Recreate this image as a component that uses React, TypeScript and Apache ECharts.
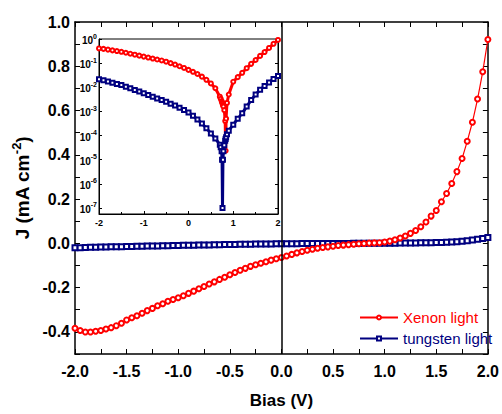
import React, { useEffect, useRef } from "react";
import * as echarts from "echarts";

// ---------- main panel data ----------
const bias = [
  -2.0, -1.95, -1.9, -1.85, -1.8, -1.75, -1.7, -1.65, -1.6, -1.55,
  -1.5, -1.45, -1.4, -1.35, -1.3, -1.25, -1.2, -1.15, -1.1, -1.05,
  -1.0, -0.95, -0.9, -0.85, -0.8, -0.75, -0.7, -0.65, -0.6, -0.55,
  -0.5, -0.45, -0.4, -0.35, -0.3, -0.25, -0.2, -0.15, -0.1, -0.05,
  0.0, 0.05, 0.1, 0.15, 0.2, 0.25, 0.3, 0.35, 0.4, 0.45,
  0.5, 0.55, 0.6, 0.65, 0.7, 0.75, 0.8, 0.85, 0.9, 0.95,
  1.0, 1.05, 1.1, 1.15, 1.2, 1.25, 1.3, 1.35, 1.4, 1.45,
  1.5, 1.55, 1.6, 1.65, 1.7, 1.75, 1.8, 1.85, 1.9, 1.95, 2.0,
];
const xenonJ = [
  -0.384, -0.394, -0.401, -0.401, -0.397, -0.394, -0.387, -0.381, -0.372, -0.361,
  -0.346, -0.336, -0.327, -0.316, -0.304, -0.294, -0.282, -0.273, -0.262, -0.254,
  -0.246, -0.237, -0.226, -0.216, -0.205, -0.195, -0.184, -0.174, -0.163, -0.153,
  -0.142, -0.132, -0.122, -0.113, -0.104, -0.097, -0.09, -0.083, -0.076, -0.07,
  -0.064, -0.057, -0.05, -0.043, -0.037, -0.031, -0.027, -0.022, -0.019, -0.016,
  -0.013, -0.01, -0.008, -0.006, -0.004, -0.002, -0.001, 0.001, 0.002, 0.003,
  0.006, 0.01, 0.016, 0.024, 0.033, 0.045, 0.058, 0.075, 0.096, 0.123,
  0.148, 0.188, 0.225, 0.27, 0.324, 0.383, 0.461, 0.547, 0.652, 0.775, 0.921,
];
const tungstenJ = [
  -0.02, -0.0195, -0.019, -0.018, -0.0175, -0.017, -0.0165, -0.016, -0.0155, -0.015,
  -0.0145, -0.014, -0.0135, -0.013, -0.0125, -0.012, -0.0115, -0.011, -0.0105, -0.01,
  -0.0095, -0.009, -0.0086, -0.0082, -0.0078, -0.0074, -0.007, -0.0066, -0.0062, -0.0058,
  -0.0054, -0.005, -0.0046, -0.0042, -0.0038, -0.0035, -0.0032, -0.0029, -0.0026, -0.0023,
  -0.002, -0.0018, -0.0016, -0.0014, -0.0012, -0.001, -0.0009, -0.0008, -0.0007, -0.0006,
  -0.0005, -0.0004, -0.0003, -0.0002, -0.0001, 0.0, 0.0001, 0.0002, 0.0003, 0.0004,
  0.0005, 0.0006, 0.0008, 0.001, 0.0012, 0.0015, 0.0018, 0.0022, 0.0026, 0.003,
  0.0035, 0.0042, 0.005, 0.006, 0.0075, 0.0095, 0.012, 0.015, 0.0185, 0.022, 0.026,
];

// ---------- inset (log |J|) data: log10 of |J| ----------
const insetBias = [
  -2.0, -1.9, -1.8, -1.7, -1.6, -1.5, -1.4, -1.3, -1.2, -1.1,
  -1.0, -0.9, -0.8, -0.7, -0.6, -0.5, -0.4, -0.3, -0.2, -0.1,
  0.0, 0.1, 0.2, 0.3, 0.4, 0.5, 0.6, 0.7, 0.72, 0.74,
  0.75, 0.76, 0.77, 0.78, 0.8, 0.82, 0.83, 0.84, 0.86, 0.9,
  1.0, 1.1, 1.2, 1.3, 1.4, 1.5, 1.6, 1.7, 1.8, 1.9, 2.0,
];
const insetXenonLog = [
  -0.39, -0.41, -0.44, -0.47, -0.5, -0.53, -0.57, -0.61, -0.65, -0.69,
  -0.73, -0.77, -0.81, -0.85, -0.89, -0.94, -1.0, -1.06, -1.13, -1.2,
  -1.28, -1.36, -1.45, -1.56, -1.69, -1.84, -2.04, -2.39, -2.48, -2.57,
  -2.62, -2.68, -2.74, -2.8, -2.95, -3.4, -4.63, -3.3, -2.65, -2.3,
  -1.77, -1.58, -1.4, -1.21, -1.03, -0.87, -0.7, -0.54, -0.37, -0.2, -0.04,
];
const insetTungstenLog = [
  -1.67, -1.71, -1.76, -1.81, -1.86, -1.91, -1.98, -2.04, -2.11, -2.18,
  -2.25, -2.32, -2.39, -2.46, -2.53, -2.6, -2.68, -2.76, -2.85, -2.94,
  -3.04, -3.18, -3.33, -3.5, -3.7, -3.91, -4.12, -4.38, -4.48, -4.65,
  -5.0, -7.0, -5.0, -4.65, -4.4, -4.22, -4.14, -4.07, -3.95, -3.8,
  -3.55, -3.3, -3.08, -2.8, -2.53, -2.3, -2.1, -1.95, -1.8, -1.66, -1.53,
];
const insetDecades = [-7, -6, -5, -4, -3, -2, -1, 0];

const RED = "#ff0000";
const NAVY = "#000080";
const FONT = "'Liberation Sans', Arial, sans-serif";

export default function App() {
  const ref = useRef<HTMLDivElement>(null);
  useEffect(() => {
    if (!ref.current) return;
    const chart = echarts.init(ref.current, null, { renderer: "svg" });
    const axisLine = { show: true, onZero: false, lineStyle: { color: "#000", width: 1.5 } };
    const tickMain = { show: true, inside: true, length: 5, lineStyle: { color: "#000", width: 1 } };
    const insetTickVals = insetDecades.map((e) => Math.pow(10, e));
    const option: any = {
      animation: false,
      textStyle: { fontFamily: FONT },
      grid: [
        { left: 75, right: 12, top: 22, bottom: 59, show: false },
        {
          left: 99, top: 39, width: 179, height: 175, show: true,
          borderColor: "#000", borderWidth: 1, backgroundColor: "#fff", z: 5,
        },
      ],
      xAxis: [
        {
          type: "value", gridIndex: 0, min: -2, max: 2, interval: 0.25,
          axisLine, axisTick: tickMain, splitLine: { show: false },
          axisLabel: {
            color: "#000", fontSize: 16, fontWeight: "bold", fontFamily: FONT, margin: 9,
            formatter: (v: number) => (Math.round(v * 4) % 2 === 0 ? v.toFixed(1) : ""),
          },
          name: "Bias (V)", nameLocation: "middle", nameGap: 38,
          nameTextStyle: { color: "#000", fontSize: 17, fontWeight: "bold", fontFamily: FONT },
        },
        {
          type: "value", gridIndex: 0, position: "top", min: -2, max: 2, interval: 0.25,
          axisLine, axisTick: tickMain, axisLabel: { show: false }, splitLine: { show: false },
        },
        {
          type: "value", gridIndex: 1, min: -2, max: 2, interval: 1,
          axisLine: { show: true, onZero: false, lineStyle: { color: "#000", width: 1 } },
          axisTick: { show: true, inside: true, length: 3, lineStyle: { color: "#000" } },
          minorTick: { show: true, splitNumber: 2, length: 2, lineStyle: { color: "#000" } },
          splitLine: { show: false },
          axisLabel: { color: "#000", fontSize: 9, fontWeight: "bold", fontFamily: FONT, margin: 4 },
          z: 6,
        },
      ],
      yAxis: [
        {
          type: "value", gridIndex: 0, min: -0.5, max: 1.0, interval: 0.1,
          axisLine, axisTick: tickMain, splitLine: { show: false },
          axisLabel: {
            color: "#000", fontSize: 16, fontWeight: "bold", fontFamily: FONT, margin: 5,
            formatter: (v: number) => (Math.abs(Math.round(v * 10)) % 2 === 0 ? v.toFixed(1) : ""),
          },
          name: "{a|J (mA cm}{s|-2}{a|)}", nameLocation: "middle", nameGap: 36, nameRotate: 90,
          nameTextStyle: {
            rich: {
              a: { fontSize: 19, fontWeight: "bold", color: "#000", fontFamily: FONT, lineHeight: 22, verticalAlign: "bottom" },
              s: { fontSize: 13, fontWeight: "bold", color: "#000", fontFamily: FONT, lineHeight: 14, verticalAlign: "top" },
            },
          },
        },
        {
          type: "value", gridIndex: 0, position: "right", min: -0.5, max: 1.0, interval: 0.1,
          axisLine, axisTick: tickMain, axisLabel: { show: false }, splitLine: { show: false },
        },
        {
          type: "log", logBase: 10, gridIndex: 1, min: Math.pow(10, -7.25), max: 1,
          axisLine: { show: true, onZero: false, lineStyle: { color: "#000", width: 1 } },
          axisTick: { show: true, inside: true, length: 3, customValues: insetTickVals, lineStyle: { color: "#000" } },
          splitLine: { show: false },
          axisLabel: {
            customValues: insetTickVals, margin: 2,
            formatter: (v: number) => `{b|10}{s|${Math.round(Math.log10(v))}}`,
            rich: {
              b: { fontSize: 10, fontWeight: "bold", color: "#000", fontFamily: FONT, lineHeight: 13, verticalAlign: "bottom" },
              s: { fontSize: 7, fontWeight: "bold", color: "#000", fontFamily: FONT, lineHeight: 8, verticalAlign: "top" },
            },
          },
          z: 6,
        },
        {
          type: "log", logBase: 10, gridIndex: 1, position: "right", min: Math.pow(10, -7.25), max: 1,
          axisLine: { show: true, onZero: false, lineStyle: { color: "#000", width: 1 } },
          axisTick: { show: true, inside: true, length: 3, customValues: insetTickVals, lineStyle: { color: "#000" } },
          axisLabel: { show: false }, splitLine: { show: false }, z: 6,
        },
      ],
      legend: {
        orient: "vertical", left: 354, top: 305, itemWidth: 38, itemHeight: 5, itemGap: 6,
        lineStyle: { width: 2 },
        textStyle: { fontSize: 15, fontFamily: FONT, lineHeight: 15 },
        data: [
          { name: "Xenon light", textStyle: { color: RED } },
          { name: "tungsten light", textStyle: { color: NAVY } },
        ],
      },
      series: [
        {
          name: "tungsten light", type: "line", xAxisIndex: 0, yAxisIndex: 0,
          data: bias.map((v, i) => [v, tungstenJ[i]]),
          symbol: "emptyRect", symbolSize: 5, showAllSymbol: true,
          lineStyle: { color: NAVY, width: 3.5 }, itemStyle: { color: NAVY, borderWidth: 1 },
        },
        {
          name: "Xenon light", type: "line", xAxisIndex: 0, yAxisIndex: 0,
          data: bias.map((v, i) => [v, xenonJ[i]]),
          symbol: "emptyCircle", symbolSize: 5, showAllSymbol: true,
          lineStyle: { color: RED, width: 1.2 }, itemStyle: { color: RED, borderWidth: 1 },
          markLine: {
            silent: true, symbol: "none", label: { show: false },
            lineStyle: { color: "#000", width: 1.5, type: "solid" },
            data: [{ xAxis: 0 }],
          },
        },
        {
          name: "Xenon light", type: "line", xAxisIndex: 2, yAxisIndex: 2, z: 7,
          data: insetBias.map((v, i) => [v, Math.pow(10, insetXenonLog[i])]),
          symbol: "emptyCircle", symbolSize: 4, showAllSymbol: true,
          lineStyle: { color: RED, width: 3 }, itemStyle: { color: RED, borderWidth: 1 },
        },
        {
          name: "tungsten light", type: "line", xAxisIndex: 2, yAxisIndex: 2, z: 7,
          data: insetBias.map((v, i) => [v, Math.pow(10, insetTungstenLog[i])]),
          symbol: "emptyRect", symbolSize: 4, showAllSymbol: true,
          lineStyle: { color: NAVY, width: 3 }, itemStyle: { color: NAVY, borderWidth: 1 },
        },
      ],
    };
    chart.setOption(option);
    return () => chart.dispose();
  }, []);
  return (
    <div
      ref={ref}
      style={{ position: "fixed", left: 0, top: 0, width: 502, height: 414, background: "#fff" }}
    />
  );
}
